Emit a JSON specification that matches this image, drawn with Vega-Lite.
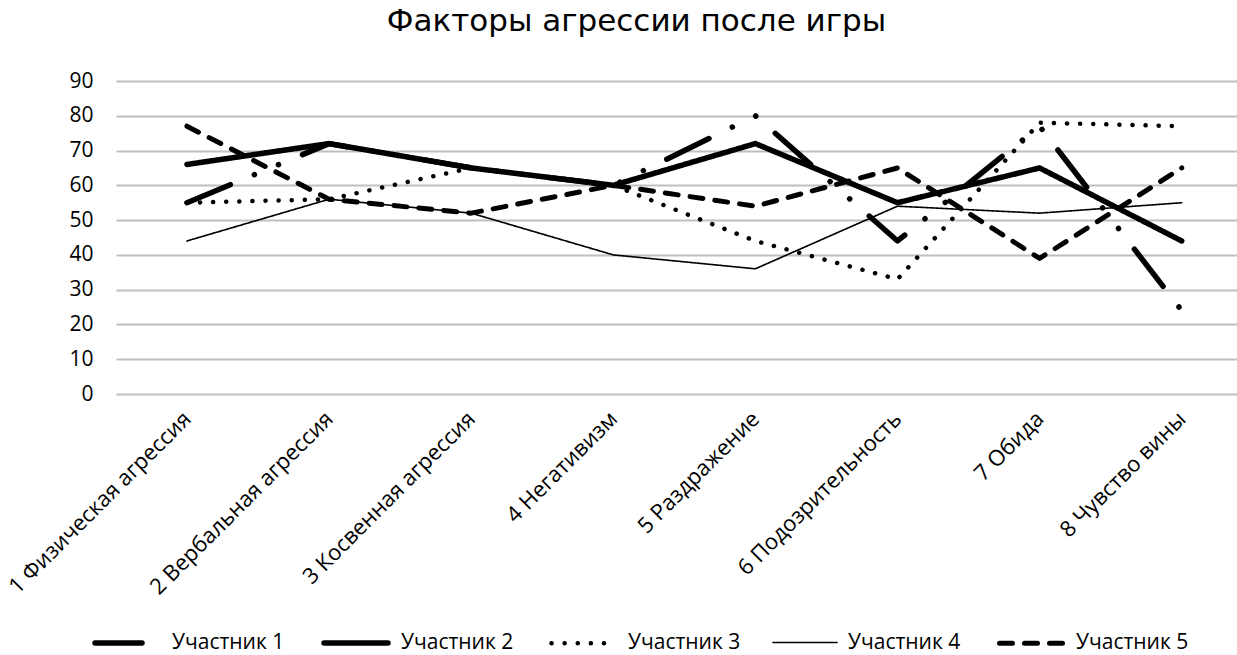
{
  "$schema": "https://vega.github.io/schema/vega-lite/v6.json",
  "width": 1121,
  "height": 313,
  "autosize": {"type": "none"},
  "padding": {"left": 116, "top": 81, "right": 0, "bottom": 261},
  "background": "white",
  "title": {
    "text": "Факторы агрессии после игры",
    "font": "DejaVu Sans",
    "fontSize": 31,
    "fontWeight": "normal",
    "color": "#000000",
    "anchor": "middle",
    "dx": -40,
    "offset": 32
  },
  "config": {
    "view": {"stroke": null},
    "font": "Open Sans"
  },
  "data": {
    "values": [
      {"cat": "1 Физическая агрессия", "p": "Участник 1", "v": 55},
      {"cat": "2 Вербальная агрессия", "p": "Участник 1", "v": 72},
      {"cat": "3 Косвенная агрессия", "p": "Участник 1", "v": 65},
      {"cat": "4 Негативизм", "p": "Участник 1", "v": 60},
      {"cat": "5 Раздражение", "p": "Участник 1", "v": 80},
      {"cat": "6 Подозрительность", "p": "Участник 1", "v": 44},
      {"cat": "7 Обида", "p": "Участник 1", "v": 77},
      {"cat": "8 Чувство вины", "p": "Участник 1", "v": 24},
      {"cat": "1 Физическая агрессия", "p": "Участник 2", "v": 66},
      {"cat": "2 Вербальная агрессия", "p": "Участник 2", "v": 72},
      {"cat": "3 Косвенная агрессия", "p": "Участник 2", "v": 65},
      {"cat": "4 Негативизм", "p": "Участник 2", "v": 60},
      {"cat": "5 Раздражение", "p": "Участник 2", "v": 72},
      {"cat": "6 Подозрительность", "p": "Участник 2", "v": 55},
      {"cat": "7 Обида", "p": "Участник 2", "v": 65},
      {"cat": "8 Чувство вины", "p": "Участник 2", "v": 44},
      {"cat": "1 Физическая агрессия", "p": "Участник 3", "v": 55},
      {"cat": "2 Вербальная агрессия", "p": "Участник 3", "v": 56},
      {"cat": "3 Косвенная агрессия", "p": "Участник 3", "v": 65},
      {"cat": "4 Негативизм", "p": "Участник 3", "v": 60},
      {"cat": "5 Раздражение", "p": "Участник 3", "v": 44},
      {"cat": "6 Подозрительность", "p": "Участник 3", "v": 33},
      {"cat": "7 Обида", "p": "Участник 3", "v": 78},
      {"cat": "8 Чувство вины", "p": "Участник 3", "v": 77},
      {"cat": "1 Физическая агрессия", "p": "Участник 4", "v": 44},
      {"cat": "2 Вербальная агрессия", "p": "Участник 4", "v": 56},
      {"cat": "3 Косвенная агрессия", "p": "Участник 4", "v": 52},
      {"cat": "4 Негативизм", "p": "Участник 4", "v": 40},
      {"cat": "5 Раздражение", "p": "Участник 4", "v": 36},
      {"cat": "6 Подозрительность", "p": "Участник 4", "v": 54},
      {"cat": "7 Обида", "p": "Участник 4", "v": 52},
      {"cat": "8 Чувство вины", "p": "Участник 4", "v": 55},
      {"cat": "1 Физическая агрессия", "p": "Участник 5", "v": 77},
      {"cat": "2 Вербальная агрессия", "p": "Участник 5", "v": 56},
      {"cat": "3 Косвенная агрессия", "p": "Участник 5", "v": 52},
      {"cat": "4 Негативизм", "p": "Участник 5", "v": 60},
      {"cat": "5 Раздражение", "p": "Участник 5", "v": 54},
      {"cat": "6 Подозрительность", "p": "Участник 5", "v": 65},
      {"cat": "7 Обида", "p": "Участник 5", "v": 39},
      {"cat": "8 Чувство вины", "p": "Участник 5", "v": 65}
    ]
  },
  "mark": {"type": "line", "strokeCap": "round", "strokeJoin": "round", "color": "#000000"},
  "encoding": {
    "x": {
      "field": "cat",
      "type": "ordinal",
      "sort": null,
      "scale": {"type": "point", "padding": 0.444, "align": 0.562},
      "axis": {
        "title": null,
        "domain": false,
        "ticks": false,
        "grid": false,
        "labelAngle": -45,
        "labelAlign": "right",
        "labelBaseline": "middle",
        "labelPadding": 21,
        "labelFont": "Open Sans",
        "labelFontSize": 22,
        "labelColor": "#000000",
        "labelLimit": 400
      }
    },
    "y": {
      "field": "v",
      "type": "quantitative",
      "scale": {"domain": [0, 90], "nice": false},
      "axis": {
        "title": null,
        "values": [0, 10, 20, 30, 40, 50, 60, 70, 80, 90],
        "domain": false,
        "ticks": false,
        "grid": true,
        "gridColor": "#bfbfbf",
        "gridWidth": 2,
        "labelPadding": 23,
        "labelFont": "Open Sans",
        "labelFontSize": 21,
        "labelColor": "#000000"
      }
    },
    "strokeDash": {
      "field": "p",
      "type": "nominal",
      "scale": {
        "domain": ["Участник 1", "Участник 2", "Участник 3", "Участник 4", "Участник 5"],
        "range": [[47, 26, 0.1, 26, 0.1, 26], [1, 0], [0.1, 13], [1, 0], [13, 12]]
      },
      "legend": {
        "title": null,
        "orient": "none",
        "direction": "horizontal",
        "legendX": -24,
        "legendY": 527,
        "symbolType": "stroke",
        "symbolSize": 4096,
        "symbolStrokeColor": "#000000",
        "labelFont": "Open Sans",
        "labelFontSize": 21,
        "labelColor": "#000000",
        "labelOffset": 10,
        "columnPadding": 28,
        "encode": {"symbols": {"update": {"strokeCap": {"value": "round"}}}}
      }
    },
    "strokeWidth": {
      "field": "p",
      "type": "nominal",
      "scale": {
        "type": "ordinal",
        "domain": ["Участник 1", "Участник 2", "Участник 3", "Участник 4", "Участник 5"],
        "range": [5.5, 5.5, 4.5, 1.6, 5]
      },
      "legend": {
        "title": null,
        "orient": "none",
        "direction": "horizontal",
        "legendX": -24,
        "legendY": 527,
        "symbolType": "stroke",
        "symbolSize": 4096,
        "symbolStrokeColor": "#000000",
        "labelFont": "Open Sans",
        "labelFontSize": 21,
        "labelColor": "#000000",
        "labelOffset": 10,
        "columnPadding": 28,
        "encode": {"symbols": {"update": {"strokeCap": {"value": "round"}}}}
      }
    }
  }
}
